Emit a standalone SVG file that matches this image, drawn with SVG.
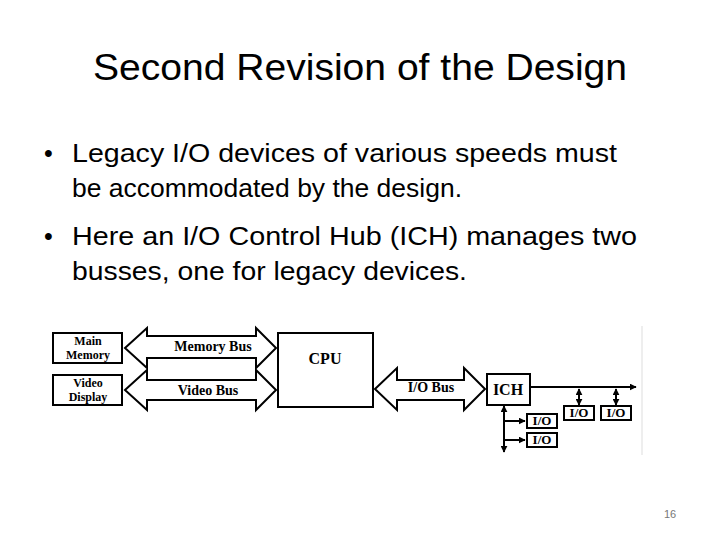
<svg xmlns="http://www.w3.org/2000/svg" width="720" height="540" viewBox="0 0 720 540">
<style>
.t{font-family:"Liberation Sans","Noto Sans",sans-serif;fill:#000}
.d{font-family:"Liberation Serif",serif;font-weight:bold;fill:#000;text-anchor:middle}
.b{fill:#fff;stroke:#000;stroke-width:2}
.ln{stroke:#000;stroke-width:2;fill:none}
</style>
<defs>
<marker id="ah" viewBox="0 0 10 10" refX="9" refY="5" markerWidth="3.5" markerHeight="3.5" orient="auto-start-reverse"><path d="M0,0L10,5L0,10z" fill="#000"/></marker>
</defs>
<rect width="720" height="540" fill="#fff"/>
<text class="t" x="360" y="80" font-size="37" text-anchor="middle" textLength="534" lengthAdjust="spacingAndGlyphs">Second Revision of the Design</text>
<g class="t" font-size="25">
<text x="44" y="162">•</text><text x="72" y="162" textLength="545" lengthAdjust="spacingAndGlyphs">Legacy I/O devices of various speeds must</text>
<text x="72" y="197" textLength="390" lengthAdjust="spacingAndGlyphs">be accommodated by the design.</text>
<text x="44" y="245">•</text><text x="72" y="245" textLength="565" lengthAdjust="spacingAndGlyphs">Here an I/O Control Hub (ICH) manages two</text>
<text x="72" y="280" textLength="395" lengthAdjust="spacingAndGlyphs">busses, one for legacy devices.</text>
</g>
<text x="670" y="518" font-family="Liberation Sans,sans-serif" font-size="11" fill="#777" text-anchor="middle">16</text>
<line x1="642" y1="326" x2="642" y2="455" stroke="#ddd" stroke-width="1"/>
<g id="connectors">
<path class="b" d="M125,348 L147,328 L147,336 L256,336 L256,328 L276,348 L256,368 L256,358 L147,358 L147,368 Z"/>
<path class="b" d="M125,390 L147,370 L147,380 L256,380 L256,370 L276,390 L256,410 L256,400 L147,400 L147,410 Z"/>
<path class="b" d="M375,389 L397,368 L397,380 L464,380 L464,368 L485,389 L464,410 L464,400 L397,400 L397,410 Z"/>
<text class="d" x="213" y="351" font-size="14">Memory Bus</text>
<text class="d" x="208" y="395" font-size="14">Video Bus</text>
<text class="d" x="431" y="392" font-size="14">I/O Bus</text>
<line class="ln" x1="531" y1="387" x2="636" y2="387" marker-end="url(#ah)"/>
<line class="ln" x1="579" y1="389" x2="579" y2="405" marker-start="url(#ah)" marker-end="url(#ah)"/>
<line class="ln" x1="616" y1="389" x2="616" y2="405" marker-start="url(#ah)" marker-end="url(#ah)"/>
<line class="ln" x1="504" y1="406" x2="504" y2="452" marker-start="url(#ah)" marker-end="url(#ah)"/>
<line class="ln" x1="505" y1="421" x2="525" y2="421" marker-end="url(#ah)"/>
<line class="ln" x1="505" y1="440" x2="525" y2="440" marker-end="url(#ah)"/>
</g>
<g id="mainmem"><rect class="b" x="53" y="333" width="69" height="30"/><text class="d" x="88" y="345" font-size="12">Main</text><text class="d" x="88" y="359" font-size="12">Memory</text></g>
<g id="video"><rect class="b" x="53" y="375" width="69" height="30"/><text class="d" x="88" y="387" font-size="12">Video</text><text class="d" x="88" y="401" font-size="12">Display</text></g>
<g id="cpu"><rect class="b" x="278" y="333" width="95" height="74"/><text class="d" x="325" y="364" font-size="16">CPU</text></g>
<g id="ich"><rect class="b" x="487" y="374" width="43" height="31"/><text class="d" x="508" y="395" font-size="16">ICH</text></g>
<g id="io1"><rect class="b" x="564" y="406" width="30" height="14"/><text class="d" x="579" y="417" font-size="13" font-weight="normal">I/O</text></g>
<g id="io2"><rect class="b" x="601" y="406" width="30" height="14"/><text class="d" x="616" y="417" font-size="13" font-weight="normal">I/O</text></g>
<g id="io3"><rect class="b" x="527" y="414" width="30" height="14"/><text class="d" x="542" y="425" font-size="13" font-weight="normal">I/O</text></g>
<g id="io4"><rect class="b" x="527" y="433" width="30" height="14"/><text class="d" x="542" y="444" font-size="13" font-weight="normal">I/O</text></g>
</svg>
